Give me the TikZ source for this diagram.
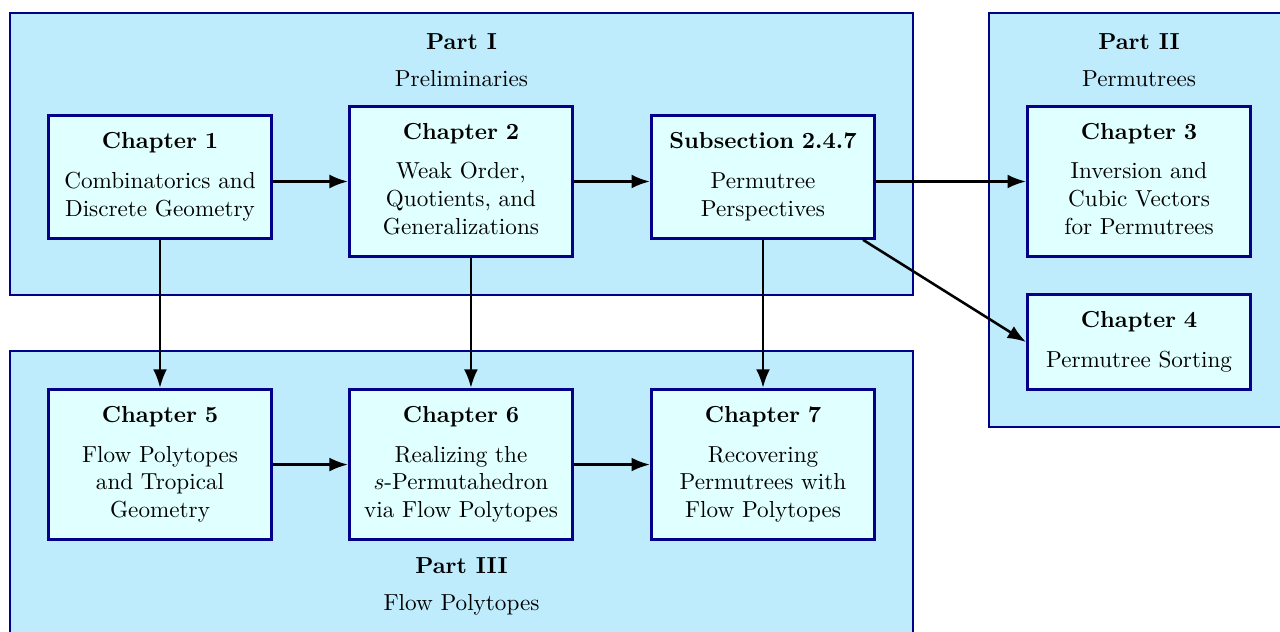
\documentclass[tikz,border=0pt]{standalone}
\usetikzlibrary{arrows.meta}

\definecolor{partfill}{RGB}{190,236,252}
\definecolor{chapfill}{RGB}{224,255,255}
\definecolor{boxline}{RGB}{0,0,139}

\begin{document}
\begin{tikzpicture}[
    chapbox/.style={draw=boxline, very thick, fill=chapfill, text width=3cm,
        align=center, inner xsep=5.5pt, inner ysep=6pt,
        execute at begin node=\strut, execute at end node=\strut},
    partbox/.style={draw=boxline, very thick, fill=partfill},
    partlabel/.style={align=center, inner sep=0pt},
    flow/.style={-{Latex[length=8pt,width=6pt]}, line width=1.1pt}
]
    \useasboundingbox (0,0) rectangle (19.423,-9.575);
    \clip (0,0) rectangle (19.423,-9.575);

    % Part boxes
    \draw[partbox] (0.152,-0.197) rectangle (13.854,-4.476);
    \draw[partbox] (15.008,-0.197) rectangle (19.75,-6.479);
    \draw[partbox] (0.152,-5.326) rectangle (13.854,-9.9);

    \node[partlabel] (p1) at (7.003,-0.92) {\textbf{Part I}\\[4pt] Preliminaries};
    \node[partlabel] (p2) at (17.284,-0.92) {\textbf{Part II}\\[4pt] Permutrees};
    \node[partlabel] (p3) at (7.003,-8.90) {\textbf{Part III}\\[4pt] Flow Polytopes};

    % Part I
    \node[chapbox] (ch1) at (2.428,-2.686) {\textbf{Chapter 1}\\[5pt] Combinatorics and\\ Discrete Geometry};
    \node[chapbox] (ch2) at (6.995,-2.754) {\textbf{Chapter 2}\\[5pt] Weak Order,\\ Quotients, and\\ Generalizations};
    \node[chapbox] (sec) at (11.578,-2.686) {\textbf{Subsection 2.4.7}\\[5pt] Permutree\\ Perspectives};

    % Part II
    \node[chapbox] (ch3) at (17.284,-2.754) {\textbf{Chapter 3}\\[5pt] Inversion and\\ Cubic Vectors\\ for Permutrees};
    \node[chapbox] (ch4) at (17.284,-5.190) {\textbf{Chapter 4}\\[5pt] Permutree Sorting};

    % Part III
    \node[chapbox] (ch5) at (2.428,-7.049) {\textbf{Chapter 5}\\[5pt] Flow Polytopes\\ and Tropical\\ Geometry};
    \node[chapbox] (ch6) at (6.995,-7.049) {\textbf{Chapter 6}\\[5pt] Realizing the\\ $s$-Permutahedron\\ via Flow Polytopes};
    \node[chapbox] (ch7) at (11.578,-7.049) {\textbf{Chapter 7}\\[5pt] Recovering\\ Permutrees with\\ Flow Polytopes};

    % Dependencies
    \draw[flow] (ch1.east |- ch2.west) -- (ch2.west);
    \draw[flow] (ch2.east) -- (sec.west |- ch2.east);
    \draw[flow] (sec.east |- ch3.west) -- (ch3.west);
    \draw[flow] (sec) -- (ch4.west);
    \draw[flow] (ch1) -- (ch5);
    \draw[flow] ([xshift=4.3pt]ch2.south) -- ([xshift=4.3pt]ch6.north);
    \draw[flow] (sec) -- (ch7);
    \draw[flow] (ch5) -- (ch6);
    \draw[flow] (ch6) -- (ch7);

\end{tikzpicture}
\end{document}
